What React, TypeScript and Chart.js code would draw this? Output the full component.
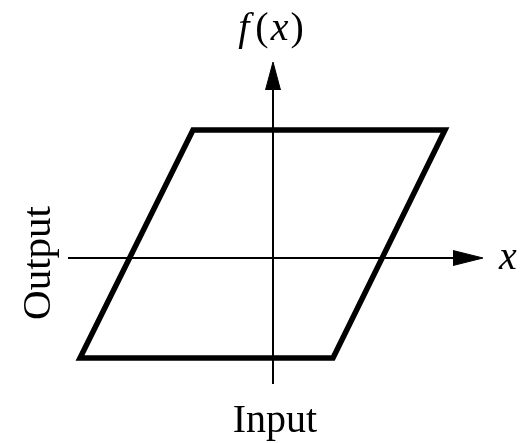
import React, { useEffect, useRef } from "react";
import { Chart, registerables } from "chart.js";

Chart.register(...registerables);

// Data in plot units (origin at axes crossing)
const loopX = [-1.93, 0.6, 1.72, -0.8, -1.93, 0.6];
const loopY = [-1.0, -1.0, 1.28, 1.28, -1.0, -1.0];
const xAxisX = [-2.05, 1.82];
const xAxisY = [0, 0];
const yAxisX = [0, 0];
const yAxisY = [-1.26, 1.7];
const xArrowX = [1.8, 2.1, 1.8];
const xArrowY = [0.075, 0, -0.075];
const yArrowX = [-0.075, 0, 0.075];
const yArrowY = [1.68, 1.96, 1.68];
const labels = { top: "f(x)", right: "x", left: "Output", bottom: "Input" };

const pts = (xs: number[], ys: number[]) => xs.map((x, i) => ({ x, y: ys[i] }));

const FONT = "'Liberation Serif', 'Times New Roman', serif";

const textPlugin = {
  id: "labels",
  afterDraw(chart: any) {
    const ctx = chart.ctx;
    const sx = chart.scales.x;
    const sy = chart.scales.y;
    const cx = sx.getPixelForValue(0);
    ctx.save();
    ctx.fillStyle = "#000";
    // f(x)
    const parts = [
      { t: "f", it: true, gap: 6 },
      { t: "(", it: false, gap: 2 },
      { t: "x", it: true, gap: 2 },
      { t: ")", it: false, gap: 0 },
    ];
    const size = 40;
    let widths = parts.map((p) => {
      ctx.font = `${p.it ? "italic " : ""}${size}px ${FONT}`;
      return ctx.measureText(p.t).width + p.gap;
    });
    const total = widths.reduce((a, b) => a + b, 0);
    let x = cx - total / 2 - 2;
    const topY = sy.getPixelForValue(1.96) - 22;
    ctx.textBaseline = "alphabetic";
    ctx.textAlign = "left";
    parts.forEach((p, i) => {
      ctx.font = `${p.it ? "italic " : ""}${size}px ${FONT}`;
      ctx.fillText(p.t, x, topY);
      x += widths[i];
    });
    // x label
    ctx.font = `italic ${size}px ${FONT}`;
    ctx.textAlign = "center";
    ctx.fillText(labels.right, sx.getPixelForValue(2.1) + 25, sy.getPixelForValue(0) + 11);
    // Input
    ctx.font = `40px ${FONT}`;
    ctx.fillText(labels.bottom, cx + 2, sy.getPixelForValue(-1.26) + 48);
    // Output
    ctx.translate(sx.getPixelForValue(-2.05) - 29, sy.getPixelForValue(0) + 5);
    ctx.rotate(-Math.PI / 2);
    ctx.textBaseline = "middle";
    ctx.font = `41px ${FONT}`;
    ctx.fillText(labels.left, 0, 0);
    ctx.restore();
  },
};

export default function App() {
  const ref = useRef<HTMLCanvasElement | null>(null);
  useEffect(() => {
    if (!ref.current) return;
    const line = (data: any, w: number) => ({
      data,
      showLine: true,
      borderColor: "#000",
      borderWidth: w,
      pointRadius: 0,
      borderJoinStyle: "miter" as const,
      borderCapStyle: "butt" as const,
      tension: 0,
      fill: false,
    });
    const arrow = (data: any) => ({
      data,
      showLine: true,
      borderColor: "#000",
      backgroundColor: "#000",
      borderWidth: 1,
      pointRadius: 0,
      fill: "shape",
    });
    const chart = new Chart(ref.current, {
      type: "scatter",
      data: {
        datasets: [
          line(pts(xAxisX, xAxisY), 2),
          line(pts(yAxisX, yAxisY), 2),
          arrow(pts(xArrowX, xArrowY)),
          arrow(pts(yArrowX, yArrowY)),
          line(pts(loopX, loopY), 5.5),
        ] as any,
      },
      options: {
        animation: false,
        responsive: false,
        layout: { padding: 0 },
        plugins: { legend: { display: false }, tooltip: { enabled: false } },
        scales: {
          x: { type: "linear", min: -2.73, max: 2.56, display: false },
          y: { type: "linear", min: -1.85, max: 2.58, display: false },
        },
      },
      plugins: [textPlugin],
    });
    return () => chart.destroy();
  }, []);
  return (
    <div style={{ position: "fixed", left: 0, top: 0, width: 529, height: 443, background: "#fff" }}>
      <canvas ref={ref} width={529} height={443} />
    </div>
  );
}
